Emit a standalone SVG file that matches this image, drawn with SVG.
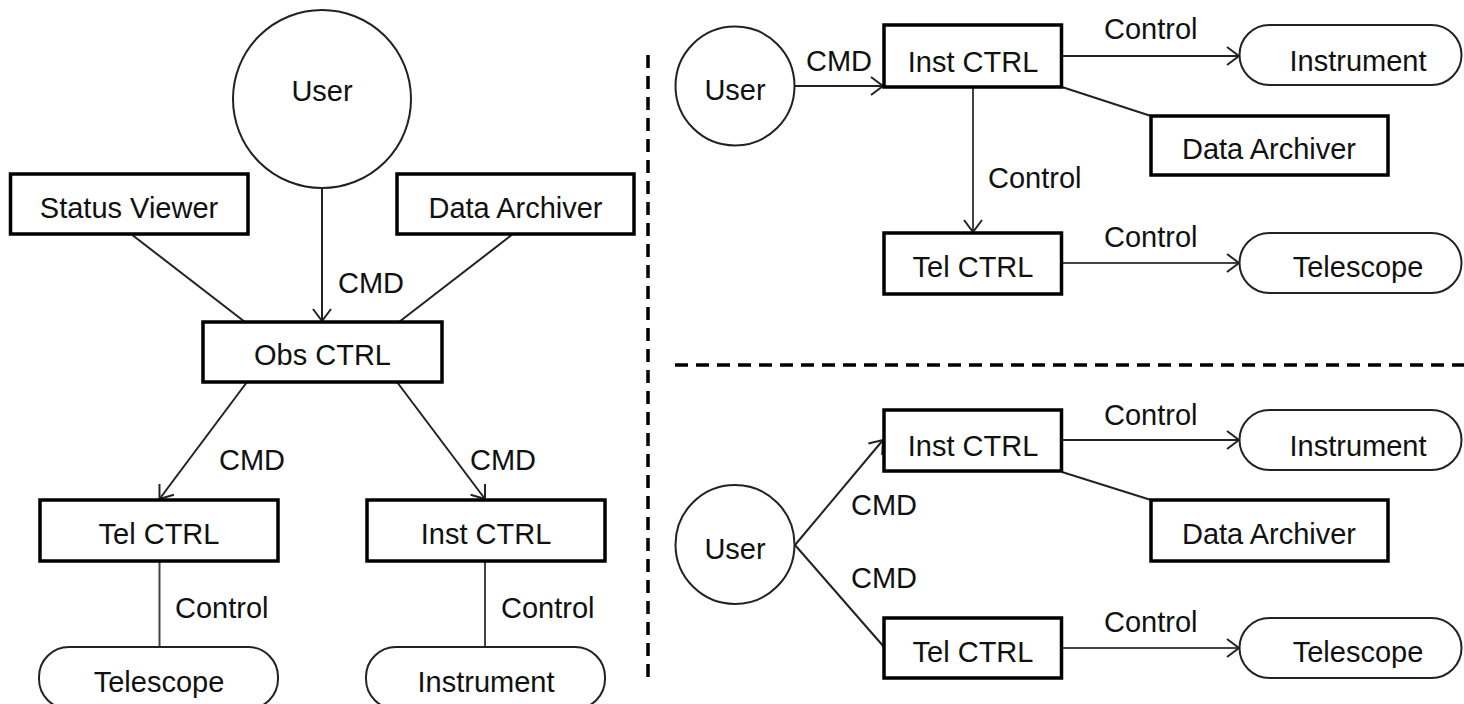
<svg xmlns="http://www.w3.org/2000/svg" width="1464" height="704" viewBox="0 0 1464 704">
<style>
text{font-family:"Liberation Sans",Arial,sans-serif;font-size:29px;fill:#111;text-anchor:middle}
.lbl{text-anchor:start}
.box{fill:#fff;stroke:#000;stroke-width:3.5}
.pill{fill:#fff;stroke:#222;stroke-width:2}
.circ{fill:#fff;stroke:#222;stroke-width:2}
.con{fill:none;stroke:#222;stroke-width:2}
.ctl{fill:none;stroke:#444;stroke-width:2}
.dash{fill:none;stroke:#000;stroke-width:3.5;stroke-dasharray:13 8}
</style>
<defs>
<marker id="arr" viewBox="0 0 14 20" refX="13" refY="10" markerWidth="14" markerHeight="20" markerUnits="userSpaceOnUse" orient="auto">
<path d="M1,1 L13,10 L1,19" fill="none" stroke="#222" stroke-width="2"/>
</marker>
</defs>
<rect width="1464" height="704" fill="#fff"/>
<g id="connectors">
<line class="con" x1="322" y1="189" x2="322" y2="321" marker-end="url(#arr)"/>
<line class="con" x1="131" y1="234" x2="245" y2="322"/>
<line class="con" x1="513" y1="234" x2="399" y2="322"/>
<line class="con" x1="247" y1="382" x2="159.5" y2="499" marker-end="url(#arr)"/>
<line class="con" x1="397" y1="382" x2="485" y2="499" marker-end="url(#arr)"/>
<line class="ctl" x1="159.5" y1="561" x2="159.5" y2="647"/>
<line class="ctl" x1="485" y1="561" x2="485" y2="647"/>
<line class="con" x1="794" y1="86" x2="883" y2="86" marker-end="url(#arr)"/>
<line class="con" x1="1062" y1="56" x2="1239" y2="56" marker-end="url(#arr)"/>
<line class="con" x1="1062" y1="87" x2="1151" y2="116"/>
<line class="ctl" x1="973" y1="87" x2="973" y2="232" marker-end="url(#arr)"/>
<line class="ctl" x1="1062" y1="263" x2="1239" y2="263" marker-end="url(#arr)"/>
<line class="con" x1="795" y1="545" x2="883" y2="440" marker-end="url(#arr)"/>
<line class="con" x1="795" y1="545" x2="884" y2="647"/>
<line class="con" x1="1062" y1="440" x2="1239" y2="440" marker-end="url(#arr)"/>
<line class="con" x1="1062" y1="472" x2="1151" y2="500"/>
<line class="ctl" x1="1062" y1="648" x2="1239" y2="648" marker-end="url(#arr)"/>
<text class="lbl" x="338" y="293">CMD</text>
<text class="lbl" x="219" y="470">CMD</text>
<text class="lbl" x="470" y="470">CMD</text>
<text class="lbl" x="175" y="618">Control</text>
<text class="lbl" x="501" y="618">Control</text>
<text class="lbl" x="806" y="71">CMD</text>
<text class="lbl" x="1104" y="39">Control</text>
<text class="lbl" x="988" y="188">Control</text>
<text class="lbl" x="1104" y="247">Control</text>
<text class="lbl" x="851" y="515">CMD</text>
<text class="lbl" x="851" y="588">CMD</text>
<text class="lbl" x="1104" y="425">Control</text>
<text class="lbl" x="1104" y="632">Control</text>
</g>
<g id="dividers">
<line class="dash" x1="648" y1="55" x2="648" y2="680"/>
<line class="dash" x1="675" y1="365" x2="1464" y2="365"/>
</g>
<g id="left-user"><circle class="circ" cx="322" cy="99" r="89"/><text x="322" y="101">User</text></g>
<g id="left-status-viewer"><rect class="box" x="10.5" y="174" width="237.5" height="60"/><text x="129" y="218">Status Viewer</text></g>
<g id="left-data-archiver"><rect class="box" x="397" y="174" width="237" height="60"/><text x="515.5" y="218">Data Archiver</text></g>
<g id="left-obs-ctrl"><rect class="box" x="203" y="322" width="239" height="60"/><text x="322.5" y="365">Obs CTRL</text></g>
<g id="left-tel-ctrl"><rect class="box" x="40" y="500" width="238" height="61"/><text x="159" y="544">Tel CTRL</text></g>
<g id="left-inst-ctrl"><rect class="box" x="367" y="500" width="238" height="61"/><text x="486" y="544">Inst CTRL</text></g>
<g id="left-telescope"><rect class="pill" x="39" y="647" width="239" height="62" rx="30"/><text x="159" y="692">Telescope</text></g>
<g id="left-instrument"><rect class="pill" x="366" y="647" width="239" height="62" rx="30"/><text x="486" y="692">Instrument</text></g>
<g id="tr-user"><circle class="circ" cx="735" cy="86" r="59.5"/><text x="735" y="100">User</text></g>
<g id="tr-inst-ctrl"><rect class="box" x="884" y="25" width="177.5" height="62"/><text x="973" y="72">Inst CTRL</text></g>
<g id="tr-instrument"><rect class="pill" x="1239.5" y="25" width="222" height="60" rx="30"/><text x="1358" y="71">Instrument</text></g>
<g id="tr-data-archiver"><rect class="box" x="1151" y="116" width="237" height="59"/><text x="1269" y="159">Data Archiver</text></g>
<g id="tr-tel-ctrl"><rect class="box" x="884" y="233" width="177.5" height="61"/><text x="973" y="277">Tel CTRL</text></g>
<g id="tr-telescope"><rect class="pill" x="1239.5" y="233" width="222" height="60" rx="30"/><text x="1358" y="277">Telescope</text></g>
<g id="br-user"><circle class="circ" cx="735" cy="544.5" r="59.5"/><text x="735" y="559">User</text></g>
<g id="br-inst-ctrl"><rect class="box" x="884" y="410" width="177.5" height="61"/><text x="973" y="456">Inst CTRL</text></g>
<g id="br-instrument"><rect class="pill" x="1239.5" y="410" width="222" height="60" rx="30"/><text x="1358" y="456">Instrument</text></g>
<g id="br-data-archiver"><rect class="box" x="1151" y="500" width="237" height="61"/><text x="1269" y="544">Data Archiver</text></g>
<g id="br-tel-ctrl"><rect class="box" x="884" y="618" width="177.5" height="60"/><text x="973" y="662">Tel CTRL</text></g>
<g id="br-telescope"><rect class="pill" x="1239.5" y="618" width="222" height="60" rx="30"/><text x="1358" y="662">Telescope</text></g>
</svg>
